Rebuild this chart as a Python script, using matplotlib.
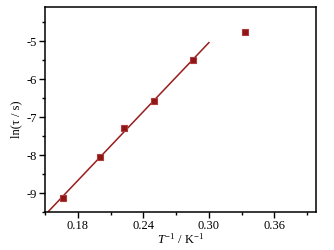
import numpy as np
import matplotlib
matplotlib.use('Agg')
import matplotlib.pyplot as plt
from matplotlib.ticker import MultipleLocator

plt.rcParams['font.family'] = ['Liberation Serif', 'DejaVu Serif']
plt.rcParams['mathtext.fontset'] = 'custom'
plt.rcParams['mathtext.rm'] = 'Liberation Serif'
plt.rcParams['mathtext.it'] = 'Liberation Serif:italic'

# data
invT = [0.1667, 0.2000, 0.2222, 0.2500, 0.2857, 0.3333]
lntau = [-9.13, -8.04, -7.30, -6.58, -5.50, -4.77]

# linear fit on the first five points
k, b = np.polyfit(invT[:5], lntau[:5], 1)
xfit = np.array([0.15, 0.30])

fig = plt.figure(figsize=(3.34, 2.5), dpi=100)
ax = fig.add_axes([0.135, 0.152, 0.811, 0.82])

ax.plot(xfit, k * xfit + b, color='#9a1c1c', lw=1.1)
ax.plot(invT, lntau, 's', ms=5, mfc='#8e1616', mec='#b03a3a', mew=0.8)

ax.set_xlim(0.15, 0.398)
ax.set_ylim(-9.5, -4.1)
ax.xaxis.set_minor_locator(MultipleLocator(0.03))
ax.yaxis.set_minor_locator(MultipleLocator(0.5))
ax.set_xticks([0.18, 0.24, 0.30, 0.36])
ax.set_xticklabels(['0.18', '0.24', '0.30', '0.36'])
ax.set_yticks([-9, -8, -7, -6, -5])
ax.set_yticklabels(['-9', '-8', '-7', '-6', '-5'])

ax.tick_params(which='both', direction='out', top=False, right=False, labelsize=9, width=1)
ax.tick_params(which='major', length=4, pad=2)
ax.tick_params(which='minor', length=2.5)
for s in ax.spines.values():
    s.set_linewidth(1.1)

ax.set_xlabel(r'$T^{-1}$ / K$^{-1}$', fontsize=9, labelpad=0)
ax.set_ylabel('ln(τ / s)', fontsize=9)
ax.yaxis.set_label_coords(-0.085, 0.45)

fig.savefig('out.png', dpi=100)
